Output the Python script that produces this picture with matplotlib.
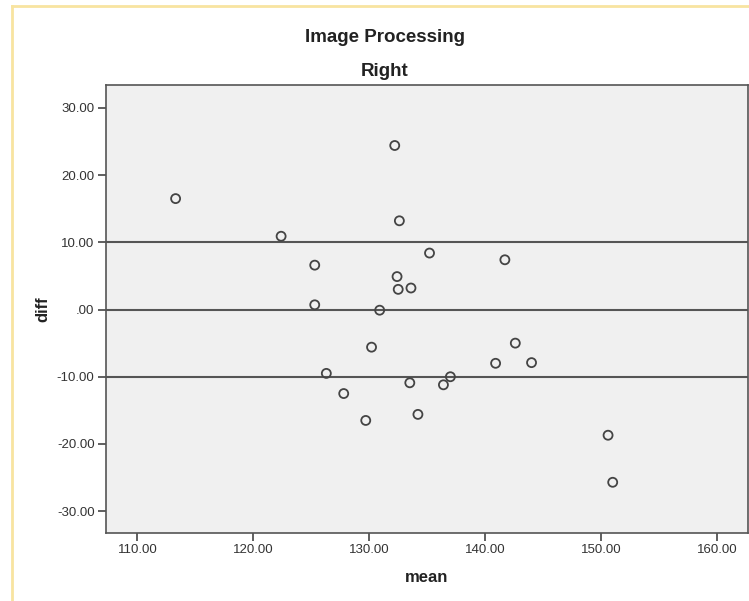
import matplotlib
matplotlib.use("Agg")
import matplotlib.pyplot as plt
from matplotlib.lines import Line2D

# Bland-Altman style data (mean vs diff)
mean_vals = [113.3, 122.4, 125.3, 125.3, 130.9, 130.2, 126.3, 127.8, 129.7,
             132.2, 132.6, 135.2, 141.7, 132.4, 132.5, 133.6, 142.6, 140.9,
             144.0, 133.5, 136.4, 137.0, 134.2, 150.6, 151.0]
diff_vals = [16.5, 10.9, 6.6, 0.7, -0.1, -5.6, -9.5, -12.5, -16.5,
             24.4, 13.2, 8.4, 7.4, 4.9, 3.0, 3.2, -5.0, -8.0,
             -7.9, -10.9, -11.2, -10.0, -15.6, -18.7, -25.7]
ref_lines = [10, 0, -10]

x_ticks = [110, 120, 130, 140, 150, 160]
x_labels = ["110.00", "120.00", "130.00", "140.00", "150.00", "160.00"]
y_ticks = [30, 20, 10, 0, -10, -20, -30]
y_labels = ["30.00", "20.00", "10.00", ".00", "-10.00", "-20.00", "-30.00"]

plt.rcParams['font.family'] = ['Liberation Sans', 'DejaVu Sans']

W, H = 749, 601
fig = plt.figure(figsize=(W / 100, H / 100), dpi=100)
fig.patch.set_facecolor("white")

# axes box in pixels: left 105.7, right 748, top 85, bottom 532.7
ax = fig.add_axes([105.7 / W, 1 - 532.7 / H, (748 - 105.7) / W, (532.7 - 85) / H])
ax.set_facecolor("#f0f0f0")

for y in ref_lines:
    ax.axhline(y, color="#555555", lw=1.5, zorder=1)

ax.scatter(mean_vals, diff_vals, s=42, facecolors="none", edgecolors="#444444",
           linewidths=1.3, zorder=3)

ax.set_xlim(107.27, 162.67)
ax.set_ylim(-33.2, 33.4)
ax.set_xticks(x_ticks)
ax.set_xticklabels(x_labels)
ax.set_yticks(y_ticks)
ax.set_yticklabels(y_labels)
ax.tick_params(direction="out", length=6, width=1.2, color="#444444",
               labelsize=9.5, labelcolor="#333333", pad=2)

for side in ["top", "right", "bottom", "left"]:
    ax.spines[side].set_color("#555555")
    ax.spines[side].set_linewidth(1.2)

ax.set_xlabel("mean", fontsize=12, fontweight="bold", color="#222222", labelpad=10)
ax.set_ylabel("diff", fontsize=12, fontweight="bold", color="#222222", labelpad=5)

fig.text(385 / W, 1 - 37 / H, "Image Processing", ha="center", va="center",
         fontsize=13.5, fontweight="bold", color="#222222")
fig.text(385 / W, 1 - 71 / H, "Right", ha="center", va="center",
         fontsize=13.5, fontweight="bold", color="#222222")

# light yellow frame on top and left
fig.add_artist(Line2D([12 / W, 1], [1 - 6 / H, 1 - 6 / H], color="#f8e4a0", lw=2))
fig.add_artist(Line2D([12 / W, 12 / W], [0, 1 - 6 / H], color="#f8e4a0", lw=2))

fig.savefig("out.png", dpi=100)
